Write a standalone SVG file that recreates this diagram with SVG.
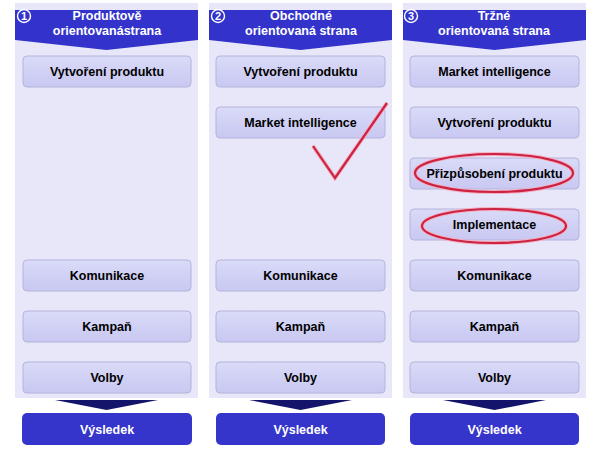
<svg xmlns="http://www.w3.org/2000/svg" width="607" height="456" viewBox="0 0 607 456">
<defs>
<linearGradient id="boxg" x1="0" y1="0" x2="0" y2="1">
<stop offset="0" stop-color="#dadaf8"/>
<stop offset="1" stop-color="#c8c8f2"/>
</linearGradient>
<style>
.panel{fill:#e7e7f9}
.head{fill:#3333cc}
.box{fill:url(#boxg);stroke:#b4b4dc;stroke-width:1}
.bt{font-family:"Liberation Sans",Arial,sans-serif;font-weight:bold;font-size:12.5px;fill:#000;text-anchor:middle}
.ht{font-family:"Liberation Sans",Arial,sans-serif;font-weight:bold;font-size:12.5px;fill:#fff;text-anchor:middle}
.num{font-family:"Liberation Sans",Arial,sans-serif;font-weight:bold;font-size:11px;fill:#fff;text-anchor:middle}
.circ{fill:none;stroke:#fff;stroke-width:1.4}
.chev{fill:#14146a}
.res{fill:#3535cc}
.rt{font-family:"Liberation Sans",Arial,sans-serif;font-weight:bold;font-size:12.5px;fill:#fff;text-anchor:middle}
.red{fill:none;stroke:#cc2244;stroke-width:2.2}
.halo{fill:none;stroke:#f4b0c0;stroke-width:4}
</style>
</defs>
<rect width="607" height="456" fill="#fff"/>

<g id="column1">
<rect class="panel" x="15" y="3" width="183" height="395"/>
<path class="head" d="M15,10 H198 V40 L106.5,50 L15,40 Z"/>
<circle class="circ" cx="24" cy="16" r="6.5"/>
<text class="num" x="24" y="20">1</text>
<text class="ht" x="107" y="20">Produktově</text>
<text class="ht" x="107" y="35">orientovanástrana</text>
</g>
<g id="column2">
<rect class="panel" x="209" y="3" width="183" height="395"/>
<path class="head" d="M209,10 H392 V40 L300.5,50 L209,40 Z"/>
<circle class="circ" cx="218" cy="16" r="6.5"/>
<text class="num" x="218" y="20">2</text>
<text class="ht" x="301" y="20">Obchodné</text>
<text class="ht" x="301" y="35">orientovaná strana</text>
</g>
<g id="column3">
<rect class="panel" x="403" y="3" width="183" height="395"/>
<path class="head" d="M403,10 H586 V40 L494.5,50 L403,40 Z"/>
<circle class="circ" cx="411" cy="16" r="6.5"/>
<text class="num" x="411" y="20">3</text>
<text class="ht" x="494" y="20">Tržné</text>
<text class="ht" x="494" y="35">orientovaná strana</text>
</g>

<g id="c1-vytvoreni"><rect class="box" x="23" y="56" width="168" height="31" rx="4"/><text class="bt" x="107" y="75.5">Vytvoření produktu</text></g>
<g id="c1-komunikace"><rect class="box" x="23" y="260" width="168" height="31" rx="4"/><text class="bt" x="107" y="279.5">Komunikace</text></g>
<g id="c1-kampan"><rect class="box" x="23" y="311" width="168" height="31" rx="4"/><text class="bt" x="107" y="330.5">Kampaň</text></g>
<g id="c1-volby"><rect class="box" x="23" y="362" width="168" height="31" rx="4"/><text class="bt" x="107" y="381.5">Volby</text></g>

<g id="c2-vytvoreni"><rect class="box" x="216" y="56" width="169" height="31" rx="4"/><text class="bt" x="300.5" y="75.5">Vytvoření produktu</text></g>
<g id="c2-market"><rect class="box" x="216" y="107" width="169" height="31" rx="4"/><text class="bt" x="300.5" y="126.5">Market intelligence</text></g>
<g id="c2-komunikace"><rect class="box" x="216" y="260" width="169" height="31" rx="4"/><text class="bt" x="300.5" y="279.5">Komunikace</text></g>
<g id="c2-kampan"><rect class="box" x="216" y="311" width="169" height="31" rx="4"/><text class="bt" x="300.5" y="330.5">Kampaň</text></g>
<g id="c2-volby"><rect class="box" x="216" y="362" width="169" height="31" rx="4"/><text class="bt" x="300.5" y="381.5">Volby</text></g>

<g id="c3-market"><rect class="box" x="410" y="56" width="169" height="31" rx="4"/><text class="bt" x="494.5" y="75.5">Market intelligence</text></g>
<g id="c3-vytvoreni"><rect class="box" x="410" y="107" width="169" height="31" rx="4"/><text class="bt" x="494.5" y="126.5">Vytvoření produktu</text></g>
<g id="c3-prizpusobeni"><rect class="box" x="410" y="158" width="169" height="31" rx="4"/><text class="bt" x="494.5" y="177.5">Přizpůsobení produktu</text></g>
<g id="c3-implementace"><rect class="box" x="410" y="209" width="169" height="31" rx="4"/><text class="bt" x="494.5" y="228.5">Implementace</text></g>
<g id="c3-komunikace"><rect class="box" x="410" y="260" width="169" height="31" rx="4"/><text class="bt" x="494.5" y="279.5">Komunikace</text></g>
<g id="c3-kampan"><rect class="box" x="410" y="311" width="169" height="31" rx="4"/><text class="bt" x="494.5" y="330.5">Kampaň</text></g>
<g id="c3-volby"><rect class="box" x="410" y="362" width="169" height="31" rx="4"/><text class="bt" x="494.5" y="381.5">Volby</text></g>

<g id="connectors">
<path class="chev" d="M55,400 H158 L106.5,410 Z"/>
<path class="chev" d="M249,400 H352 L300.5,410 Z"/>
<path class="chev" d="M443,400 H546 L494.5,410 Z"/>
</g>

<g id="c1-vysledek"><rect class="res" x="22" y="413" width="170" height="32" rx="5"/><text class="rt" x="107" y="433.5">Výsledek</text></g>
<g id="c2-vysledek"><rect class="res" x="216" y="413" width="169" height="32" rx="5"/><text class="rt" x="300.5" y="433.5">Výsledek</text></g>
<g id="c3-vysledek"><rect class="res" x="410" y="413" width="169" height="32" rx="5"/><text class="rt" x="494.5" y="433.5">Výsledek</text></g>

<g id="annotations">
<ellipse class="halo" cx="494" cy="173" rx="79" ry="19"/>
<ellipse class="red" cx="494" cy="173" rx="79" ry="19"/>
<ellipse class="halo" cx="494" cy="226" rx="72" ry="17"/>
<ellipse class="red" cx="494" cy="226" rx="72" ry="17"/>
<polyline class="halo" points="313,146 335,178 387,103"/>
<polyline class="red" points="313,146 335,178 387,103"/>
</g>
</svg>
